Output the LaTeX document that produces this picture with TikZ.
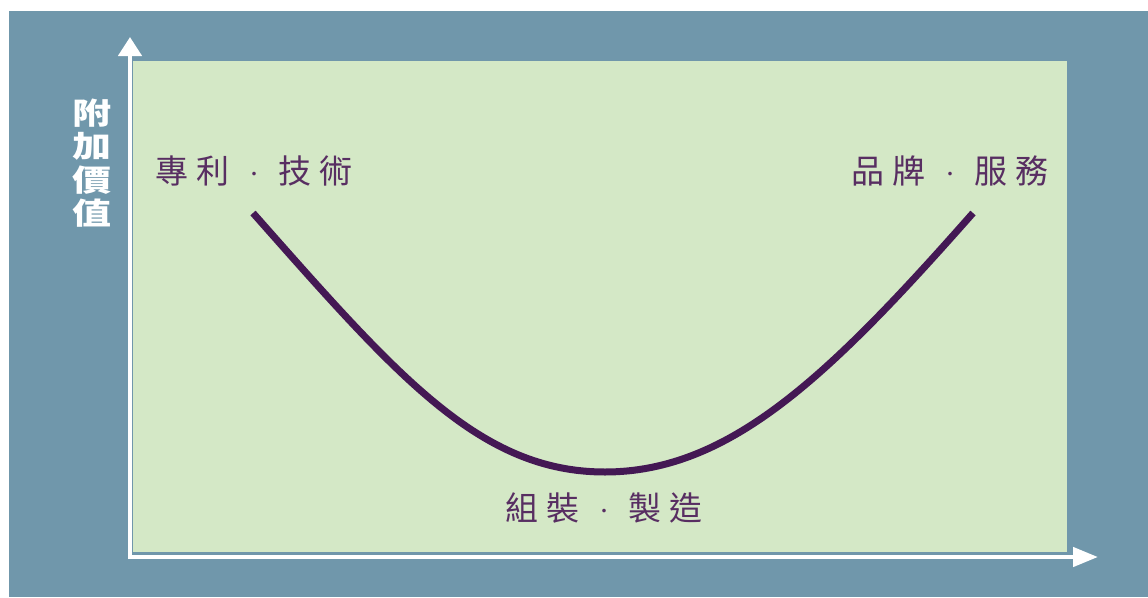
\documentclass[tikz,border=0pt]{standalone}
\usepackage{fontspec}
\usetikzlibrary{arrows.meta}
\newfontfamily\cjk{Noto Sans CJK TC}
\definecolor{bgblue}{RGB}{112,151,171}
\definecolor{bggreen}{RGB}{212,232,198}
\definecolor{txtpurple}{RGB}{88,46,98}
\definecolor{curvepurple}{RGB}{68,24,84}
\newcommand\gq{\kern8pt}
\newcommand\middot{\makebox[33pt]{\raisebox{3pt}{\fontsize{17}{17}\selectfont ‧}}}
\tikzset{
  axisline/.style={draw=white, line width=4.5pt},
  stagelabel/.style={text=txtpurple, font=\cjk\fontsize{33}{36}\selectfont, inner sep=0pt},
  ylabel/.style={text=white, font=\cjk\bfseries\fontsize{30}{33.5}\selectfont, align=center, inner sep=0pt, xscale=1.3},
  smile/.style={draw=curvepurple, line width=7pt}
}
\begin{document}
\begin{tikzpicture}[x=1pt,y=-1pt]
\useasboundingbox (0,0) rectangle (1148,597);
\fill[white] (0,0) rectangle (1148,597);
\fill[bgblue] (9,11) rectangle (1148,597);
\fill[bggreen] (133,61) rectangle (1067,552);
% axes
\coordinate (origin) at (130,557);
\coordinate (ytip) at (130,37);
\coordinate (xtip) at (1098,557);
\draw[axisline, -{Triangle[width=23pt,length=19pt]}] ([yshift=-2pt]origin) -- (ytip);
\draw[axisline, -{Triangle[width=19pt,length=25pt]}] ([xshift=-2pt]origin) -- (xtip);
% y label
\node[ylabel] (yl) at (92,163) {附\\加\\價\\值};
% curve
\coordinate (cstart) at (253,213);
\coordinate (cmin) at (605,472);
\coordinate (cend) at (973,213);
\draw[smile] (cstart) .. controls (398,377) and (480,472) .. (cmin)
             .. controls (730,472) and (830,375) .. (cend);
% labels
\node[stagelabel] (left) at (254,171) {專\gq 利\gq\middot\gq 技\gq 術};
\node[stagelabel] (right) at (950,171) {品\gq 牌\gq\middot\gq 服\gq 務};
\node[stagelabel] (bottom) at (604,508) {組\gq 裝\gq\middot\gq 製\gq 造};
\end{tikzpicture}
\end{document}
